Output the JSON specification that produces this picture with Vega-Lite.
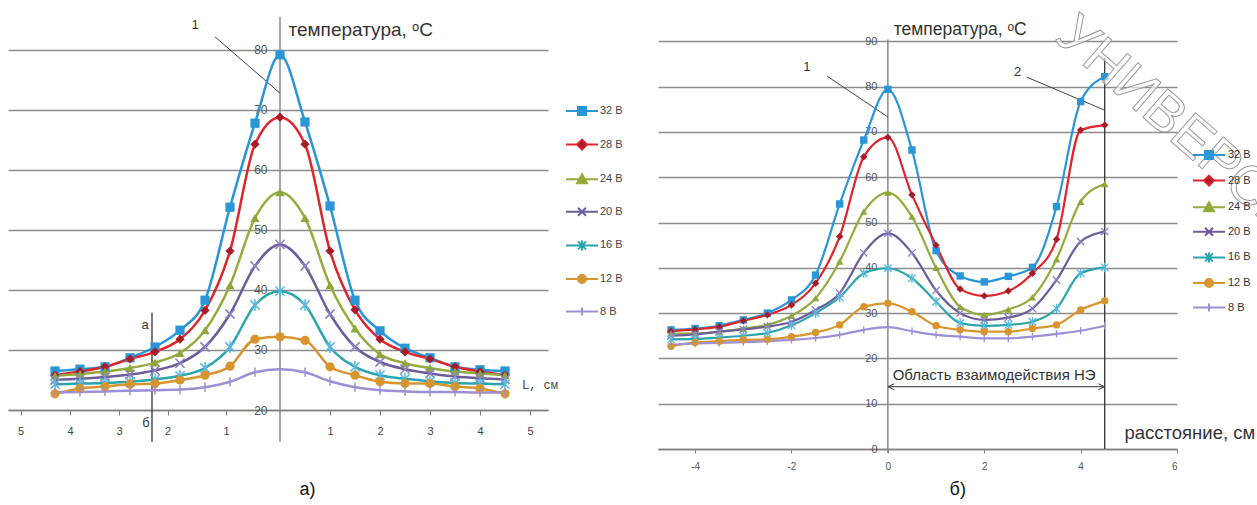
{
  "$schema": "https://vega.github.io/schema/vega-lite/v6.json",
  "padding": {"left": 8, "top": 0, "right": 0, "bottom": 0},
  "background": "white",
  "bounds": "flush",
  "spacing": 110,
  "config": {"view": {"stroke": null}, "font": "Liberation Sans"},
  "resolve": {"legend": {"fill": "independent", "stroke": "independent", "shape": "independent"}},
  "datasets": {
    "a": [
      {"x":-4.5,"T":26.5,"s":"32 В"},{"x":-4,"T":26.8,"s":"32 В"},{"x":-3.5,"T":27.2,"s":"32 В"},{"x":-3,"T":28.7,"s":"32 В"},{"x":-2.5,"T":30.5,"s":"32 В"},{"x":-2,"T":33.3,"s":"32 В"},{"x":-1.5,"T":38.3,"s":"32 В"},{"x":-1,"T":53.8,"s":"32 В"},{"x":-0.5,"T":67.8,"s":"32 В"},{"x":0,"T":79.2,"s":"32 В"},{"x":0.5,"T":68.0,"s":"32 В"},{"x":1,"T":54.0,"s":"32 В"},{"x":1.5,"T":38.3,"s":"32 В"},{"x":2,"T":33.2,"s":"32 В"},{"x":2.5,"T":30.3,"s":"32 В"},{"x":3,"T":28.7,"s":"32 В"},{"x":3.5,"T":27.2,"s":"32 В"},{"x":4,"T":26.7,"s":"32 В"},{"x":4.5,"T":26.5,"s":"32 В"},
      {"x":-4.5,"T":25.8,"s":"28 В"},{"x":-4,"T":26.4,"s":"28 В"},{"x":-3.5,"T":27.2,"s":"28 В"},{"x":-3,"T":28.5,"s":"28 В"},{"x":-2.5,"T":29.7,"s":"28 В"},{"x":-2,"T":31.8,"s":"28 В"},{"x":-1.5,"T":36.6,"s":"28 В"},{"x":-1,"T":46.5,"s":"28 В"},{"x":-0.5,"T":64.3,"s":"28 В"},{"x":0,"T":68.8,"s":"28 В"},{"x":0.5,"T":64.3,"s":"28 В"},{"x":1,"T":46.5,"s":"28 В"},{"x":1.5,"T":36.7,"s":"28 В"},{"x":2,"T":31.8,"s":"28 В"},{"x":2.5,"T":29.7,"s":"28 В"},{"x":3,"T":28.5,"s":"28 В"},{"x":3.5,"T":27.2,"s":"28 В"},{"x":4,"T":26.4,"s":"28 В"},{"x":4.5,"T":25.8,"s":"28 В"},
      {"x":-4.5,"T":25.7,"s":"24 В"},{"x":-4,"T":26.0,"s":"24 В"},{"x":-3.5,"T":26.4,"s":"24 В"},{"x":-3,"T":27.0,"s":"24 В"},{"x":-2.5,"T":27.9,"s":"24 В"},{"x":-2,"T":29.5,"s":"24 В"},{"x":-1.5,"T":33.3,"s":"24 В"},{"x":-1,"T":40.8,"s":"24 В"},{"x":-0.5,"T":52.0,"s":"24 В"},{"x":0,"T":56.3,"s":"24 В"},{"x":0.5,"T":52.0,"s":"24 В"},{"x":1,"T":40.8,"s":"24 В"},{"x":1.5,"T":33.6,"s":"24 В"},{"x":2,"T":29.3,"s":"24 В"},{"x":2.5,"T":27.8,"s":"24 В"},{"x":3,"T":27.0,"s":"24 В"},{"x":3.5,"T":26.4,"s":"24 В"},{"x":4,"T":26.1,"s":"24 В"},{"x":4.5,"T":25.8,"s":"24 В"},
      {"x":-4.5,"T":25.0,"s":"20 В"},{"x":-4,"T":25.2,"s":"20 В"},{"x":-3.5,"T":25.5,"s":"20 В"},{"x":-3,"T":25.9,"s":"20 В"},{"x":-2.5,"T":26.6,"s":"20 В"},{"x":-2,"T":27.8,"s":"20 В"},{"x":-1.5,"T":30.5,"s":"20 В"},{"x":-1,"T":36.0,"s":"20 В"},{"x":-0.5,"T":44.0,"s":"20 В"},{"x":0,"T":47.6,"s":"20 В"},{"x":0.5,"T":44.0,"s":"20 В"},{"x":1,"T":36.0,"s":"20 В"},{"x":1.5,"T":30.5,"s":"20 В"},{"x":2,"T":28.0,"s":"20 В"},{"x":2.5,"T":26.8,"s":"20 В"},{"x":3,"T":26.1,"s":"20 В"},{"x":3.5,"T":25.6,"s":"20 В"},{"x":4,"T":25.3,"s":"20 В"},{"x":4.5,"T":25.1,"s":"20 В"},
      {"x":-4.5,"T":24.3,"s":"16 В"},{"x":-4,"T":24.4,"s":"16 В"},{"x":-3.5,"T":24.5,"s":"16 В"},{"x":-3,"T":24.7,"s":"16 В"},{"x":-2.5,"T":25.1,"s":"16 В"},{"x":-2,"T":25.7,"s":"16 В"},{"x":-1.5,"T":27.0,"s":"16 В"},{"x":-1,"T":30.5,"s":"16 В"},{"x":-0.5,"T":37.5,"s":"16 В"},{"x":0,"T":39.8,"s":"16 В"},{"x":0.5,"T":37.5,"s":"16 В"},{"x":1,"T":30.5,"s":"16 В"},{"x":1.5,"T":27.2,"s":"16 В"},{"x":2,"T":25.8,"s":"16 В"},{"x":2.5,"T":25.2,"s":"16 В"},{"x":3,"T":24.8,"s":"16 В"},{"x":3.5,"T":24.5,"s":"16 В"},{"x":4,"T":24.4,"s":"16 В"},{"x":4.5,"T":24.3,"s":"16 В"},
      {"x":-4.5,"T":22.7,"s":"12 В"},{"x":-4,"T":23.6,"s":"12 В"},{"x":-3.5,"T":23.9,"s":"12 В"},{"x":-3,"T":24.3,"s":"12 В"},{"x":-2.5,"T":24.4,"s":"12 В"},{"x":-2,"T":25.0,"s":"12 В"},{"x":-1.5,"T":25.8,"s":"12 В"},{"x":-1,"T":27.3,"s":"12 В"},{"x":-0.5,"T":31.8,"s":"12 В"},{"x":0,"T":32.2,"s":"12 В"},{"x":0.5,"T":31.6,"s":"12 В"},{"x":1,"T":27.2,"s":"12 В"},{"x":1.5,"T":25.8,"s":"12 В"},{"x":2,"T":24.7,"s":"12 В"},{"x":2.5,"T":24.4,"s":"12 В"},{"x":3,"T":24.4,"s":"12 В"},{"x":3.5,"T":23.9,"s":"12 В"},{"x":4,"T":23.6,"s":"12 В"},{"x":4.5,"T":22.7,"s":"12 В"},
      {"x":-4.5,"T":22.9,"s":"8 В"},{"x":-4,"T":23.0,"s":"8 В"},{"x":-3.5,"T":23.1,"s":"8 В"},{"x":-3,"T":23.2,"s":"8 В"},{"x":-2.5,"T":23.3,"s":"8 В"},{"x":-2,"T":23.4,"s":"8 В"},{"x":-1.5,"T":23.8,"s":"8 В"},{"x":-1,"T":24.7,"s":"8 В"},{"x":-0.5,"T":26.3,"s":"8 В"},{"x":0,"T":26.8,"s":"8 В"},{"x":0.5,"T":26.3,"s":"8 В"},{"x":1,"T":24.8,"s":"8 В"},{"x":1.5,"T":23.8,"s":"8 В"},{"x":2,"T":23.3,"s":"8 В"},{"x":2.5,"T":23.1,"s":"8 В"},{"x":3,"T":23.0,"s":"8 В"},{"x":3.5,"T":23.0,"s":"8 В"},{"x":4,"T":22.9,"s":"8 В"},{"x":4.5,"T":22.9,"s":"8 В"}
    ],
    "b": [
      {"x":-4.5,"T":26.3,"s":"32 В"},{"x":-4,"T":26.6,"s":"32 В"},{"x":-3.5,"T":27.2,"s":"32 В"},{"x":-3,"T":28.5,"s":"32 В"},{"x":-2.5,"T":30.0,"s":"32 В"},{"x":-2,"T":32.9,"s":"32 В"},{"x":-1.5,"T":38.4,"s":"32 В"},{"x":-1,"T":54.1,"s":"32 В"},{"x":-0.5,"T":68.2,"s":"32 В"},{"x":0,"T":79.4,"s":"32 В"},{"x":0.5,"T":66.0,"s":"32 В"},{"x":1,"T":43.8,"s":"32 В"},{"x":1.5,"T":38.2,"s":"32 В"},{"x":2,"T":36.9,"s":"32 В"},{"x":2.5,"T":38.1,"s":"32 В"},{"x":3,"T":40.1,"s":"32 В"},{"x":3.5,"T":53.5,"s":"32 В"},{"x":4,"T":76.7,"s":"32 В"},{"x":4.5,"T":82.2,"s":"32 В"},
      {"x":-4.5,"T":26.0,"s":"28 В"},{"x":-4,"T":26.4,"s":"28 В"},{"x":-3.5,"T":27.0,"s":"28 В"},{"x":-3,"T":28.3,"s":"28 В"},{"x":-2.5,"T":29.6,"s":"28 В"},{"x":-2,"T":31.8,"s":"28 В"},{"x":-1.5,"T":36.6,"s":"28 В"},{"x":-1,"T":46.9,"s":"28 В"},{"x":-0.5,"T":64.5,"s":"28 В"},{"x":0,"T":68.8,"s":"28 В"},{"x":0.5,"T":56.1,"s":"28 В"},{"x":1,"T":45.0,"s":"28 В"},{"x":1.5,"T":35.3,"s":"28 В"},{"x":2,"T":33.8,"s":"28 В"},{"x":2.5,"T":34.9,"s":"28 В"},{"x":3,"T":38.8,"s":"28 В"},{"x":3.5,"T":46.3,"s":"28 В"},{"x":4,"T":70.4,"s":"28 В"},{"x":4.5,"T":71.5,"s":"28 В"},
      {"x":-4.5,"T":25.5,"s":"24 В"},{"x":-4,"T":25.5,"s":"24 В"},{"x":-3.5,"T":25.9,"s":"24 В"},{"x":-3,"T":26.6,"s":"24 В"},{"x":-2.5,"T":27.4,"s":"24 В"},{"x":-2,"T":29.4,"s":"24 В"},{"x":-1.5,"T":33.3,"s":"24 В"},{"x":-1,"T":41.4,"s":"24 В"},{"x":-0.5,"T":52.4,"s":"24 В"},{"x":0,"T":56.6,"s":"24 В"},{"x":0.5,"T":51.3,"s":"24 В"},{"x":1,"T":40.0,"s":"24 В"},{"x":1.5,"T":31.4,"s":"24 В"},{"x":2,"T":29.6,"s":"24 В"},{"x":2.5,"T":30.8,"s":"24 В"},{"x":3,"T":33.5,"s":"24 В"},{"x":3.5,"T":41.9,"s":"24 В"},{"x":4,"T":54.6,"s":"24 В"},{"x":4.5,"T":58.5,"s":"24 В"},
      {"x":-4.5,"T":25.0,"s":"20 В"},{"x":-4,"T":25.3,"s":"20 В"},{"x":-3.5,"T":25.9,"s":"20 В"},{"x":-3,"T":26.4,"s":"20 В"},{"x":-2.5,"T":27.0,"s":"20 В"},{"x":-2,"T":28.1,"s":"20 В"},{"x":-1.5,"T":30.7,"s":"20 В"},{"x":-1,"T":34.4,"s":"20 В"},{"x":-0.5,"T":43.3,"s":"20 В"},{"x":0,"T":47.6,"s":"20 В"},{"x":0.5,"T":43.3,"s":"20 В"},{"x":1,"T":35.0,"s":"20 В"},{"x":1.5,"T":30.0,"s":"20 В"},{"x":2,"T":28.5,"s":"20 В"},{"x":2.5,"T":29.0,"s":"20 В"},{"x":3,"T":31.0,"s":"20 В"},{"x":3.5,"T":37.3,"s":"20 В"},{"x":4,"T":45.8,"s":"20 В"},{"x":4.5,"T":48.0,"s":"20 В"},
      {"x":-4.5,"T":24.2,"s":"16 В"},{"x":-4,"T":24.3,"s":"16 В"},{"x":-3.5,"T":24.6,"s":"16 В"},{"x":-3,"T":25.0,"s":"16 В"},{"x":-2.5,"T":25.6,"s":"16 В"},{"x":-2,"T":27.3,"s":"16 В"},{"x":-1.5,"T":30.0,"s":"16 В"},{"x":-1,"T":33.5,"s":"16 В"},{"x":-0.5,"T":38.8,"s":"16 В"},{"x":0,"T":39.9,"s":"16 В"},{"x":0.5,"T":37.7,"s":"16 В"},{"x":1,"T":32.5,"s":"16 В"},{"x":1.5,"T":27.8,"s":"16 В"},{"x":2,"T":27.2,"s":"16 В"},{"x":2.5,"T":27.4,"s":"16 В"},{"x":3,"T":28.1,"s":"16 В"},{"x":3.5,"T":31.0,"s":"16 В"},{"x":4,"T":38.8,"s":"16 В"},{"x":4.5,"T":40.1,"s":"16 В"},
      {"x":-4.5,"T":22.7,"s":"12 В"},{"x":-4,"T":23.5,"s":"12 В"},{"x":-3.5,"T":23.8,"s":"12 В"},{"x":-3,"T":24.1,"s":"12 В"},{"x":-2.5,"T":24.2,"s":"12 В"},{"x":-2,"T":24.8,"s":"12 В"},{"x":-1.5,"T":25.7,"s":"12 В"},{"x":-1,"T":27.4,"s":"12 В"},{"x":-0.5,"T":31.4,"s":"12 В"},{"x":0,"T":32.2,"s":"12 В"},{"x":0.5,"T":30.3,"s":"12 В"},{"x":1,"T":27.2,"s":"12 В"},{"x":1.5,"T":26.3,"s":"12 В"},{"x":2,"T":25.9,"s":"12 В"},{"x":2.5,"T":25.9,"s":"12 В"},{"x":3,"T":26.6,"s":"12 В"},{"x":3.5,"T":27.4,"s":"12 В"},{"x":4,"T":30.7,"s":"12 В"},{"x":4.5,"T":32.7,"s":"12 В"},
      {"x":-4.5,"T":23.0,"s":"8 В"},{"x":-4,"T":23.3,"s":"8 В"},{"x":-3.5,"T":23.4,"s":"8 В"},{"x":-3,"T":23.6,"s":"8 В"},{"x":-2.5,"T":23.8,"s":"8 В"},{"x":-2,"T":24.1,"s":"8 В"},{"x":-1.5,"T":24.5,"s":"8 В"},{"x":-1,"T":25.2,"s":"8 В"},{"x":-0.5,"T":26.3,"s":"8 В"},{"x":0,"T":26.9,"s":"8 В"},{"x":0.5,"T":26.0,"s":"8 В"},{"x":1,"T":25.2,"s":"8 В"},{"x":1.5,"T":24.8,"s":"8 В"},{"x":2,"T":24.4,"s":"8 В"},{"x":2.5,"T":24.4,"s":"8 В"},{"x":3,"T":24.8,"s":"8 В"},{"x":3.5,"T":25.4,"s":"8 В"},{"x":4,"T":26.1,"s":"8 В"},{"x":4.5,"T":27.2,"s":"8 В"}
    ]
  },
  "hconcat": [
    {
      "width": 540,
      "height": 410,
      "encoding": {
        "x": {"field": "x", "type": "quantitative",
          "scale": {"domain": [-5.44, 5.36], "nice": false, "zero": false},
          "axis": {"title": null, "values": [-5.19, -4.2, -3.22, -2.25, -1.08, 1, 2, 3, 4, 5], "labelExpr": "format(abs(round(datum.value)), 'd')", "grid": false, "domainColor": "#7f7f7f", "domainWidth": 1.5, "tickColor": "#7f7f7f", "tickSize": 5, "labelFontSize": 11, "labelColor": "#444", "labelPadding": 10, "labelFont": "Liberation Sans"}},
        "y": {"field": "T", "type": "quantitative",
          "scale": {"domain": [20, 88.333], "nice": false, "zero": false},
          "axis": {"title": null, "values": [20, 30, 40, 50, 60, 70, 80], "grid": true, "gridColor": "#8c8c8c", "gridWidth": 1.5, "domain": false, "ticks": false, "offset": -272, "labelPadding": 13, "labelFontSize": 12, "labelColor": "#555", "labelFont": "Liberation Sans"}}
      },
      "layer": [
        {"data": {"values": [{"x": 0, "T": 14.7, "T2": 85.5}]},
         "mark": {"type": "rule", "color": "#8a8a8a", "strokeWidth": 1.5},
         "encoding": {"y2": {"field": "T2"}}},
        {"data": {"values": [{"x": -2.56, "T": 36.2, "T2": 14.7}]},
         "mark": {"type": "rule", "color": "#333", "strokeWidth": 1.3},
         "encoding": {"y2": {"field": "T2"}}},
        {"data": {"values": [{"x": -1.3, "T": 82.2, "x2": 0, "T2": 72.8}]},
         "mark": {"type": "rule", "color": "#444", "strokeWidth": 1},
         "encoding": {"x2": {"field": "x2"}, "y2": {"field": "T2"}}},
        {"data": {"name": "a"},
         "mark": {"type": "line", "interpolate": "monotone", "strokeWidth": 2.5},
         "encoding": {"stroke": {"field": "s", "type": "nominal",
           "scale": {"domain": ["32 В", "28 В", "24 В", "20 В", "16 В", "12 В", "8 В"], "range": ["#2a96d8", "#e0242a", "#95ab3c", "#6c5c9c", "#28a4ad", "#d8952e", "#9c8fd6"]}}}},
        {"data": {"name": "a"}, "transform": [{"filter": {"field": "s", "equal": "32 В"}}],
         "mark": {"type": "point", "shape": "square", "size": 85, "filled": true, "color": "#2a96d8", "opacity": 1}},
        {"data": {"name": "a"}, "transform": [{"filter": {"field": "s", "equal": "28 В"}}],
         "mark": {"type": "point", "shape": "diamond", "size": 85, "filled": true, "color": "#a81c28", "opacity": 1}},
        {"data": {"name": "a"}, "transform": [{"filter": {"field": "s", "equal": "24 В"}}],
         "mark": {"type": "point", "shape": "triangle-up", "size": 85, "filled": true, "color": "#8ea63a", "opacity": 1}},
        {"data": {"name": "a"}, "transform": [{"filter": {"field": "s", "equal": "20 В"}}],
         "mark": {"type": "point", "shape": "M-1,-1L1,1M-1,1L1,-1", "size": 85, "filled": false, "color": "#8a7fc0", "strokeWidth": 1.5, "opacity": 1}},
        {"data": {"name": "a"}, "transform": [{"filter": {"field": "s", "equal": "16 В"}}],
         "mark": {"type": "point", "shape": "M-1,-1L1,1M-1,1L1,-1M0,-1.3L0,1.3", "size": 85, "filled": false, "color": "#5ab8e0", "strokeWidth": 1.5, "opacity": 1}},
        {"data": {"name": "a"}, "transform": [{"filter": {"field": "s", "equal": "12 В"}}],
         "mark": {"type": "point", "shape": "circle", "size": 85, "filled": true, "color": "#d8952e", "opacity": 1}},
        {"data": {"name": "a"}, "transform": [{"filter": {"field": "s", "equal": "8 В"}}],
         "mark": {"type": "point", "shape": "M0,-1L0,1", "size": 85, "filled": false, "color": "#9c8fd6", "strokeWidth": 1.5, "opacity": 1}},
        {"data": {"name": "a"},
         "mark": {"type": "point", "opacity": 0},
         "encoding": {
           "shape": {"field": "s", "type": "nominal",
             "scale": {"domain": ["32 В", "28 В", "24 В", "20 В", "16 В", "12 В", "8 В"], "range": ["M-3.2,0H-0.8M0.8,0H3.2M-0.8,-0.8H0.8V0.8H-0.8Z", "M-3.2,0H-1M1,0H3.2M0,-1L1,0L0,1L-1,0Z", "M-3.2,0H3.2M0,-1L1,0.8H-1Z", "M-3.2,0H3.2M-0.8,-0.8L0.8,0.8M-0.8,0.8L0.8,-0.8", "M-3.2,0H3.2M-0.8,-0.8L0.8,0.8M-0.8,0.8L0.8,-0.8M0,-1V1", "M-3.2,0H3.2M-0.8,0A0.8,0.8,0,1,1,0.8,0A0.8,0.8,0,1,1,-0.8,0Z", "M-3.2,0H3.2M0,-0.8V0.8"]},
             "legend": {"orient": "none", "legendX": 568, "legendY": 105, "title": null, "padding": 0, "symbolSize": 100, "symbolStrokeWidth": 2, "symbolOpacity": 1, "symbolOffset": 0, "labelFontSize": 11, "labelColor": "#444", "labelFont": "Liberation Sans", "labelOffset": 12, "rowPadding": 16.6}},
           "fill": {"field": "s", "type": "nominal",
             "scale": {"domain": ["32 В", "28 В", "24 В", "20 В", "16 В", "12 В", "8 В"], "range": ["#2a96d8", "#a81c28", "#8ea63a", "#8a7fc0", "#5ab8e0", "#d8952e", "#9c8fd6"]},
             "legend": {"orient": "none", "legendX": 568, "legendY": 105, "title": null, "padding": 0, "symbolSize": 100, "symbolStrokeWidth": 2, "symbolOpacity": 1, "symbolOffset": 0, "labelFontSize": 11, "labelColor": "#444", "labelFont": "Liberation Sans", "labelOffset": 12, "rowPadding": 16.6}},
           "stroke": {"field": "s", "type": "nominal",
             "scale": {"domain": ["32 В", "28 В", "24 В", "20 В", "16 В", "12 В", "8 В"], "range": ["#2a96d8", "#e0242a", "#95ab3c", "#6c5c9c", "#28a4ad", "#d8952e", "#9c8fd6"]},
             "legend": {"orient": "none", "legendX": 568, "legendY": 105, "title": null, "padding": 0, "symbolSize": 100, "symbolStrokeWidth": 2, "symbolOpacity": 1, "symbolOffset": 0, "labelFontSize": 11, "labelColor": "#444", "labelFont": "Liberation Sans", "labelOffset": 12, "rowPadding": 16.6}}
         }},
        {"data": {"values": [{"x": -1.7, "T": 84.2, "label": "1"}, {"x": -2.7, "T": 34.2, "label": "а"}, {"x": -2.68, "T": 17.9, "label": "б"}]},
         "mark": {"type": "text", "align": "center", "baseline": "middle", "fontSize": 13, "font": "Liberation Sans", "color": "#333"},
         "encoding": {"text": {"field": "label"}}},
        {"data": {"values": [{"x": 0.17, "T": 83.3, "label": "температура, ᵒС"}]},
         "mark": {"type": "text", "align": "left", "baseline": "middle", "fontSize": 19, "font": "Liberation Sans", "color": "#333"},
         "encoding": {"text": {"field": "label"}}},
        {"data": {"values": [{"x": 4.84, "T": 24.2, "label": "L, см"}]},
         "mark": {"type": "text", "align": "left", "baseline": "middle", "fontSize": 12, "font": "Liberation Mono", "color": "#444"},
         "encoding": {"text": {"field": "label"}}},
        {"data": {"values": [{"x": 0.55, "T": 6.67, "label": "а)"}]},
         "mark": {"type": "text", "align": "center", "baseline": "middle", "fontSize": 18, "font": "Liberation Sans", "color": "#111"},
         "encoding": {"text": {"field": "label"}}}
      ]
    },
    {
      "width": 519,
      "height": 449,
      "encoding": {
        "x": {"field": "x", "type": "quantitative",
          "scale": {"domain": [-4.77, 6.0], "nice": false, "zero": false},
          "axis": {"title": null, "values": [-4, -2, 0, 2, 4, 6], "labelExpr": "replace(datum.label, '−', '-')", "grid": false, "domainColor": "#7f7f7f", "domainWidth": 1.5, "tickColor": "#7f7f7f", "tickSize": 4, "labelFontSize": 10, "labelColor": "#555", "labelPadding": 8, "labelFont": "Liberation Sans"}},
        "y": {"field": "T", "type": "quantitative",
          "scale": {"domain": [0, 99.12], "nice": false, "zero": false},
          "axis": {"title": null, "values": [0, 10, 20, 30, 40, 50, 60, 70, 80, 90], "grid": true, "gridColor": "#8c8c8c", "gridWidth": 1.5, "domain": false, "ticks": false, "offset": -230, "labelPadding": 11, "labelFontSize": 11, "labelColor": "#555", "labelFont": "Liberation Sans"}}
      },
      "layer": [
        {"data": {"values": [{"x": 0, "T": -0.9, "T2": 90.4}]},
         "mark": {"type": "rule", "color": "#8a8a8a", "strokeWidth": 1.5},
         "encoding": {"y2": {"field": "T2"}}},
        {"data": {"values": [{"x": 4.5, "T": 0, "T2": 86.3}]},
         "mark": {"type": "rule", "color": "#333", "strokeWidth": 1.3},
         "encoding": {"y2": {"field": "T2"}}},
        {"data": {"values": [{"x": -1.26, "T": 82.3, "x2": 0, "T2": 73.3}, {"x": 2.88, "T": 82.1, "x2": 4.5, "T2": 74.8}]},
         "mark": {"type": "rule", "color": "#444", "strokeWidth": 1},
         "encoding": {"x2": {"field": "x2"}, "y2": {"field": "T2"}}},
        {"data": {"values": [{"x": 0, "T": 13.75, "x2": 4.5}]},
         "mark": {"type": "rule", "color": "#333", "strokeWidth": 1},
         "encoding": {"x2": {"field": "x2"}}},
        {"data": {"values": [{"x": 0.07, "T": 13.75}]},
         "mark": {"type": "point", "shape": "M1,-1L-1,0L1,1", "size": 36, "filled": false, "color": "#333", "strokeWidth": 1, "opacity": 1},
         "encoding": {}},
        {"data": {"values": [{"x": 4.43, "T": 13.75}]},
         "mark": {"type": "point", "shape": "M-1,-1L1,0L-1,1", "size": 36, "filled": false, "color": "#333", "strokeWidth": 1, "opacity": 1},
         "encoding": {}},
        {"data": {"name": "b"},
         "mark": {"type": "line", "interpolate": "monotone", "strokeWidth": 2.2},
         "encoding": {"stroke": {"field": "s", "type": "nominal",
           "scale": {"domain": ["32 В", "28 В", "24 В", "20 В", "16 В", "12 В", "8 В"], "range": ["#2a96d8", "#e0242a", "#95ab3c", "#6c5c9c", "#28a4ad", "#d8952e", "#9c8fd6"]}}}},
        {"data": {"name": "b"}, "transform": [{"filter": {"field": "s", "equal": "32 В"}}],
         "mark": {"type": "point", "shape": "square", "size": 55, "filled": true, "color": "#2a96d8", "opacity": 1}},
        {"data": {"name": "b"}, "transform": [{"filter": {"field": "s", "equal": "28 В"}}],
         "mark": {"type": "point", "shape": "diamond", "size": 55, "filled": true, "color": "#a81c28", "opacity": 1}},
        {"data": {"name": "b"}, "transform": [{"filter": {"field": "s", "equal": "24 В"}}],
         "mark": {"type": "point", "shape": "triangle-up", "size": 55, "filled": true, "color": "#8ea63a", "opacity": 1}},
        {"data": {"name": "b"}, "transform": [{"filter": {"field": "s", "equal": "20 В"}}],
         "mark": {"type": "point", "shape": "M-1,-1L1,1M-1,1L1,-1", "size": 55, "filled": false, "color": "#8a7fc0", "strokeWidth": 1.3, "opacity": 1}},
        {"data": {"name": "b"}, "transform": [{"filter": {"field": "s", "equal": "16 В"}}],
         "mark": {"type": "point", "shape": "M-1,-1L1,1M-1,1L1,-1M0,-1.3L0,1.3", "size": 55, "filled": false, "color": "#5ab8e0", "strokeWidth": 1.3, "opacity": 1}},
        {"data": {"name": "b"}, "transform": [{"filter": {"field": "s", "equal": "12 В"}}],
         "mark": {"type": "point", "shape": "circle", "size": 55, "filled": true, "color": "#d8952e", "opacity": 1}},
        {"data": {"name": "b"}, "transform": [{"filter": {"field": "s", "equal": "8 В"}}],
         "mark": {"type": "point", "shape": "M0,-1L0,1", "size": 55, "filled": false, "color": "#9c8fd6", "strokeWidth": 1.3, "opacity": 1}},
        {"data": {"name": "b"},
         "mark": {"type": "point", "opacity": 0},
         "encoding": {
           "shape": {"field": "s", "type": "nominal",
             "scale": {"domain": ["32 В", "28 В", "24 В", "20 В", "16 В", "12 В", "8 В"], "range": ["M-3.2,0H-0.8M0.8,0H3.2M-0.8,-0.8H0.8V0.8H-0.8Z", "M-3.2,0H-1M1,0H3.2M0,-1L1,0L0,1L-1,0Z", "M-3.2,0H3.2M0,-1L1,0.8H-1Z", "M-3.2,0H3.2M-0.8,-0.8L0.8,0.8M-0.8,0.8L0.8,-0.8", "M-3.2,0H3.2M-0.8,-0.8L0.8,0.8M-0.8,0.8L0.8,-0.8M0,-1V1", "M-3.2,0H3.2M-0.8,0A0.8,0.8,0,1,1,0.8,0A0.8,0.8,0,1,1,-0.8,0Z", "M-3.2,0H3.2M0,-0.8V0.8"]},
             "legend": {"orient": "none", "legendX": 545, "legendY": 149, "title": null, "padding": 0, "symbolSize": 100, "symbolStrokeWidth": 2, "symbolOpacity": 1, "symbolOffset": 0, "labelFontSize": 11, "labelColor": "#333", "labelFont": "Liberation Sans", "labelOffset": 13, "rowPadding": 8.6}},
           "fill": {"field": "s", "type": "nominal",
             "scale": {"domain": ["32 В", "28 В", "24 В", "20 В", "16 В", "12 В", "8 В"], "range": ["#2a96d8", "#a81c28", "#8ea63a", "#8a7fc0", "#5ab8e0", "#d8952e", "#9c8fd6"]},
             "legend": {"orient": "none", "legendX": 545, "legendY": 149, "title": null, "padding": 0, "symbolSize": 100, "symbolStrokeWidth": 2, "symbolOpacity": 1, "symbolOffset": 0, "labelFontSize": 11, "labelColor": "#333", "labelFont": "Liberation Sans", "labelOffset": 13, "rowPadding": 8.6}},
           "stroke": {"field": "s", "type": "nominal",
             "scale": {"domain": ["32 В", "28 В", "24 В", "20 В", "16 В", "12 В", "8 В"], "range": ["#2a96d8", "#e0242a", "#95ab3c", "#6c5c9c", "#28a4ad", "#d8952e", "#9c8fd6"]},
             "legend": {"orient": "none", "legendX": 545, "legendY": 149, "title": null, "padding": 0, "symbolSize": 100, "symbolStrokeWidth": 2, "symbolOpacity": 1, "symbolOffset": 0, "labelFontSize": 11, "labelColor": "#333", "labelFont": "Liberation Sans", "labelOffset": 13, "rowPadding": 8.6}}
         }},
        {"data": {"values": [{"x": -1.68, "T": 84.3, "label": "1"}, {"x": 2.69, "T": 83.2, "label": "2"}]},
         "mark": {"type": "text", "align": "center", "baseline": "middle", "fontSize": 13, "font": "Liberation Sans", "color": "#333"},
         "encoding": {"text": {"field": "label"}}},
        {"data": {"values": [{"x": 0.12, "T": 92.5, "label": "температура, ᵒС"}]},
         "mark": {"type": "text", "align": "left", "baseline": "middle", "fontSize": 17.5, "font": "Liberation Sans", "color": "#333"},
         "encoding": {"text": {"field": "label"}}},
        {"data": {"values": [{"x": 0.1, "T": 16.3, "label": "Область взаимодействия НЭ"}]},
         "mark": {"type": "text", "align": "left", "baseline": "middle", "fontSize": 15, "font": "Liberation Sans", "color": "#333"},
         "encoding": {"text": {"field": "label"}}},
        {"data": {"values": [{"x": 4.91, "T": 3.45, "label": "расстояние, см"}]},
         "mark": {"type": "text", "align": "left", "baseline": "middle", "fontSize": 18.5, "font": "Liberation Sans", "color": "#333"},
         "encoding": {"text": {"field": "label"}}},
        {"data": {"values": [{"x": 1.45, "T": -9.05, "label": "б)"}]},
         "mark": {"type": "text", "align": "center", "baseline": "middle", "fontSize": 18, "font": "Liberation Sans", "color": "#111"},
         "encoding": {"text": {"field": "label"}}},
        {"data": {"values": [{"x": 4.02, "T": 97.6, "label": "УНИВЕРСИТЕТ"}]},
         "mark": {"type": "text", "align": "left", "baseline": "top", "angle": 41, "fontSize": 55, "font": "Liberation Sans", "fill": "white", "fillOpacity": 0.6, "stroke": "#9a9a9a", "strokeWidth": 1},
         "encoding": {"text": {"field": "label"}}}
      ]
    }
  ]
}
